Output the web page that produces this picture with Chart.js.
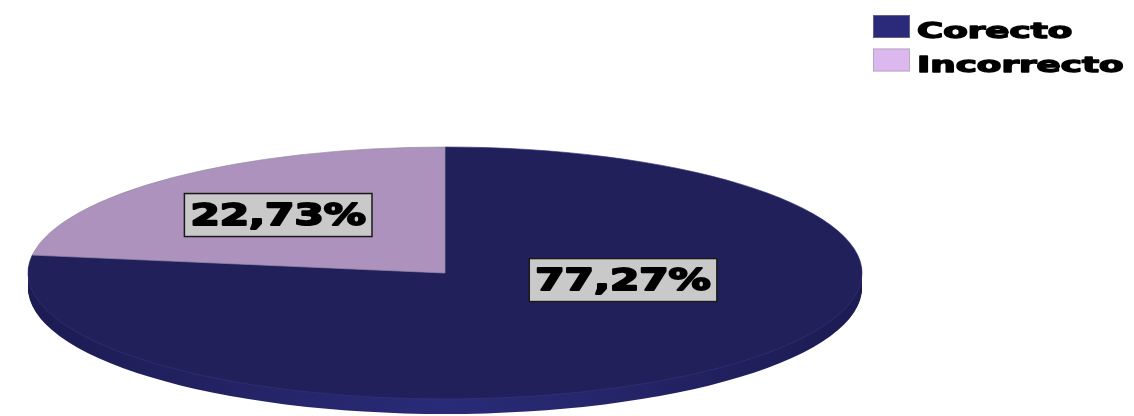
<!DOCTYPE html>
<html>
<head>
<meta charset="utf-8">
<script src="https://cdn.jsdelivr.net/npm/chart.js@4.4.1/dist/chart.umd.min.js"></script>
<style>
  html, body { margin: 0; padding: 0; background: #fff; }
  #wrap { width: 1134px; height: 416px; }
</style>
</head>
<body>
<div id="wrap"><canvas id="pieChart" width="1134" height="416"></canvas></div>
<script>
const labels = ['Corecto', 'Incorrecto'];
const percents = [77.27, 22.73];

const topColors = ['#21205B', '#AD92BE'];
const edgeColors = ['#34357A', '#8E8A9E'];
const sideColors = [['#1C1B52', '#2A2B78'], ['#8A719E', '#A388B6']];
const legendColors = ['#2B2A7A', '#DBB9EF'];

// tilted pie: horizontal / vertical radius and wall height, px
const RX = 417, RY = 126, DEPTH = 15;
const K = RY / RX;

// where each value box sits, as fractions of RX / RY from the centre
const labelSpots = [[0.427, 0.056], [-0.40, -0.46]];

const FONT = '"DejaVu Sans", Arial, sans-serif';
const VALUE_STRETCH = 1.36;
const LEGEND_STRETCH = 1.70;

function sliceWall(ctx, arc, dy, color) {
  ctx.beginPath();
  ctx.moveTo(arc.x, arc.y + dy);
  ctx.arc(arc.x, arc.y + dy, arc.outerRadius, arc.startAngle, arc.endAngle);
  ctx.closePath();
  ctx.fillStyle = color;
  ctx.fill();
}

// heavy black text, stretched sideways
function fatText(ctx, txt, x, y, stretch, size) {
  ctx.save();
  ctx.translate(x, y);
  ctx.scale(stretch, 1);
  ctx.font = 'bold ' + size + 'px ' + FONT;
  ctx.fillStyle = '#000';
  ctx.strokeStyle = '#000';
  ctx.lineWidth = size / 16;
  ctx.lineJoin = 'round';
  ctx.fillText(txt, 0, 0);
  ctx.strokeText(txt, 0, 0);
  ctx.restore();
}

const tiltPlugin = {
  id: 'tilt',
  beforeDatasetsDraw(chart) {
    const ctx = chart.ctx;
    const arcs = chart.getDatasetMeta(0).data;
    const cx = arcs[0].x, cy = arcs[0].y;
    ctx.save();
    ctx.translate(cx, cy);
    ctx.scale(1, K);
    ctx.translate(-cx, -cy);

    // side wall, stacked down from the top face
    arcs.forEach((arc, i) => {
      const g = ctx.createLinearGradient(cx - RX, 0, cx + RX, 0);
      g.addColorStop(0, sideColors[i][0]);
      g.addColorStop(0.5, sideColors[i][1]);
      g.addColorStop(1, sideColors[i][0]);
      for (let d = DEPTH; d >= 1; d--) sliceWall(ctx, arc, d / K, g);
    });
  },
  afterDatasetsDraw(chart) {
    const ctx = chart.ctx;
    ctx.restore();

    const arcs = chart.getDatasetMeta(0).data;
    arcs.forEach((arc, i) => {
      const txt = percents[i].toFixed(2).replace('.', ',') + '%';
      const x = arc.x + labelSpots[i][0] * RX;
      const y = arc.y + labelSpots[i][1] * RY;
      ctx.save();
      ctx.font = 'bold 31px ' + FONT;
      const w = ctx.measureText(txt).width * VALUE_STRETCH;
      const bw = w + 12, bh = 43;
      ctx.fillStyle = '#C9C9C9';
      ctx.fillRect(x - bw / 2, y - bh / 2, bw, bh);
      ctx.strokeStyle = '#1a1a1a';
      ctx.lineWidth = 1.5;
      ctx.strokeRect(x - bw / 2, y - bh / 2, bw, bh);
      ctx.textAlign = 'center';
      ctx.textBaseline = 'middle';
      fatText(ctx, txt, x, y + 2, VALUE_STRETCH, 31);
      ctx.restore();
    });
  },
  afterDraw(chart) {
    const ctx = chart.ctx;
    labels.forEach((name, i) => {
      const top = 15 + i * 33.5;
      ctx.save();
      ctx.fillStyle = legendColors[i];
      ctx.fillRect(873, top, 37, 23);
      ctx.strokeStyle = 'rgba(150,150,150,0.5)';
      ctx.lineWidth = 1;
      ctx.strokeRect(873.5, top + 0.5, 36, 22);
      ctx.textBaseline = 'alphabetic';
      fatText(ctx, name, 917, top + 23, LEGEND_STRETCH, 21);
      ctx.restore();
    });
  }
};

new Chart(document.getElementById('pieChart'), {
  type: 'pie',
  data: {
    labels: labels,
    datasets: [{
      data: percents,
      backgroundColor: topColors,
      borderColor: edgeColors,
      borderWidth: 1
    }]
  },
  options: {
    responsive: false,
    animation: false,
    events: [],
    radius: RX,
    layout: { padding: { left: 0, right: 244, top: 130, bottom: 0 } },
    plugins: {
      legend: { display: false },
      tooltip: { enabled: false }
    }
  },
  plugins: [tiltPlugin]
});
</script>
</body>
</html>
